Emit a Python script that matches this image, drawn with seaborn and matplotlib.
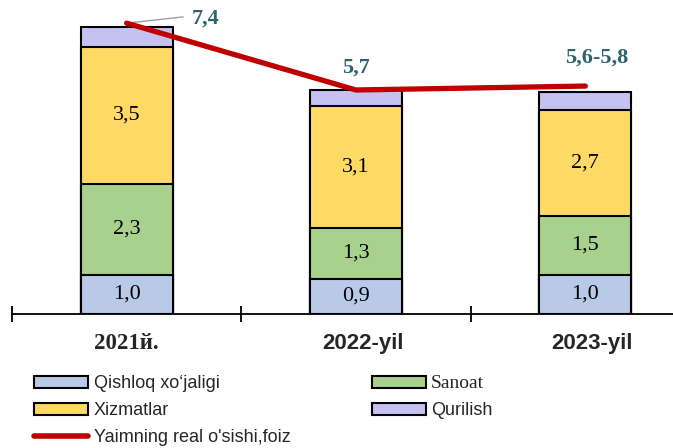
import numpy as np
import pandas as pd
import matplotlib
matplotlib.use("Agg")
import matplotlib.pyplot as plt
from matplotlib.patches import Patch
from matplotlib.lines import Line2D
import seaborn as sns

sns.set_style("white")

# data
years = ["2021й.", "2022-yil", "2023-yil"]
qishloq = [1.0, 0.9, 1.0]
sanoat = [2.3, 1.3, 1.5]
xizmatlar = [3.5, 3.1, 2.7]
qurilish = [0.5, 0.4, 0.45]
growth = [7.4, 5.7, 5.8]
growth_labels = ["7,4", "5,7", "5,6-5,8"]

names = ["Qishloq xo\u2018jaligi", "Sanoat", "Xizmatlar", "Qurilish"]
colors = ["#B9CAE8", "#A9D18E", "#FFD966", "#C5C2F2"]
RED = "#C00000"
TEAL = "#2E6272"

SERIF = ["Liberation Serif", "DejaVu Serif"]
SANS = ["Liberation Sans", "DejaVu Sans"]

parts = [qishloq, sanoat, xizmatlar, qurilish]
cums = np.cumsum(np.array(parts), axis=0)

fig = plt.figure(figsize=(6.73, 4.48), dpi=100)
ax = fig.add_axes([12 / 673, 134 / 448, 688 / 673, 7.6 * 39.3 / 448])

# stacked bars: draw the cumulative totals from the top down
for i in range(3, -1, -1):
    df = pd.DataFrame({"year": years, "val": cums[i]})
    sns.barplot(data=df, x="year", y="val", color=colors[i], width=0.4,
                edgecolor="black", linewidth=1.5, saturation=1, ax=ax)

# value labels inside segments (Qurilish unlabeled)
for i in range(3):
    for j in range(3):
        mid = cums[i][j] - parts[i][j] / 2
        ax.text(j, mid, f"{parts[i][j]:.1f}".replace(".", ","), ha="center",
                va="center", fontsize=16, family=SERIF, color="black")

# growth line
sns.lineplot(x=[0, 1, 2], y=growth, color=RED, linewidth=3.8, ax=ax,
             solid_capstyle="round", solid_joinstyle="round", zorder=5)

# leader line for first label
ax.plot([0, 0.246], [7.4, 7.56], color="#A0A0A0", lw=1, zorder=4)
lab_pos = [(0.285, 7.52, "left"), (1.0, 6.26, "center"), (2.05, 6.53, "center")]
for (x, y, ha), t in zip(lab_pos, growth_labels):
    ax.text(x, y, t, ha=ha, va="center", fontsize=16, fontweight="bold",
            family=SERIF, color=TEAL)

ax.set_xlim(-0.5, 2.5)
ax.set_ylim(0, 7.6)
for s in ["left", "right", "top"]:
    ax.spines[s].set_visible(False)
ax.spines["bottom"].set_color("black")
ax.spines["bottom"].set_linewidth(1.3)
ax.set_yticks([])
ax.set_xticks([-0.5, 0.5, 1.5, 2.5])
ax.set_xticklabels([])
ax.tick_params(axis="x", bottom=True, direction="inout", length=12, width=1.3,
               color="black")
ax.set_xlabel("")
ax.set_ylabel("")

# year labels
ax.text(0, -0.74, years[0], ha="center", va="center", fontsize=16.5,
        fontweight="bold", family=SERIF, clip_on=False)
for j in (1, 2):
    ax.text(j + 0.03, -0.74, years[j], ha="center", va="center", fontsize=16,
            fontweight="bold", family=SANS, clip_on=False)

# legend
handles = [Patch(facecolor=colors[0], edgecolor="black", lw=1.5),
           Patch(facecolor=colors[2], edgecolor="black", lw=1.5),
           Line2D([0], [0], color=RED, lw=4, solid_capstyle="round"),
           Patch(facecolor=colors[1], edgecolor="black", lw=1.5),
           Patch(facecolor=colors[3], edgecolor="black", lw=1.5)]
labels = [names[0], names[2], "Yaimning real o'sishi,foiz", names[1], names[3]]
leg = fig.legend(handles, labels, ncol=2, loc="upper left",
                 bbox_to_anchor=(34 / 673, 1 - 375 / 448), frameon=False,
                 prop={"family": SANS, "size": 13}, handlelength=3.0,
                 handleheight=0.65, handletextpad=0.3, labelspacing=0.55,
                 columnspacing=4.5, borderaxespad=0, borderpad=0)
for t in leg.get_texts():
    if t.get_text() == "Sanoat":
        t.set_family(SERIF)
        t.set_size(14)

fig.savefig("out.png", dpi=100)
